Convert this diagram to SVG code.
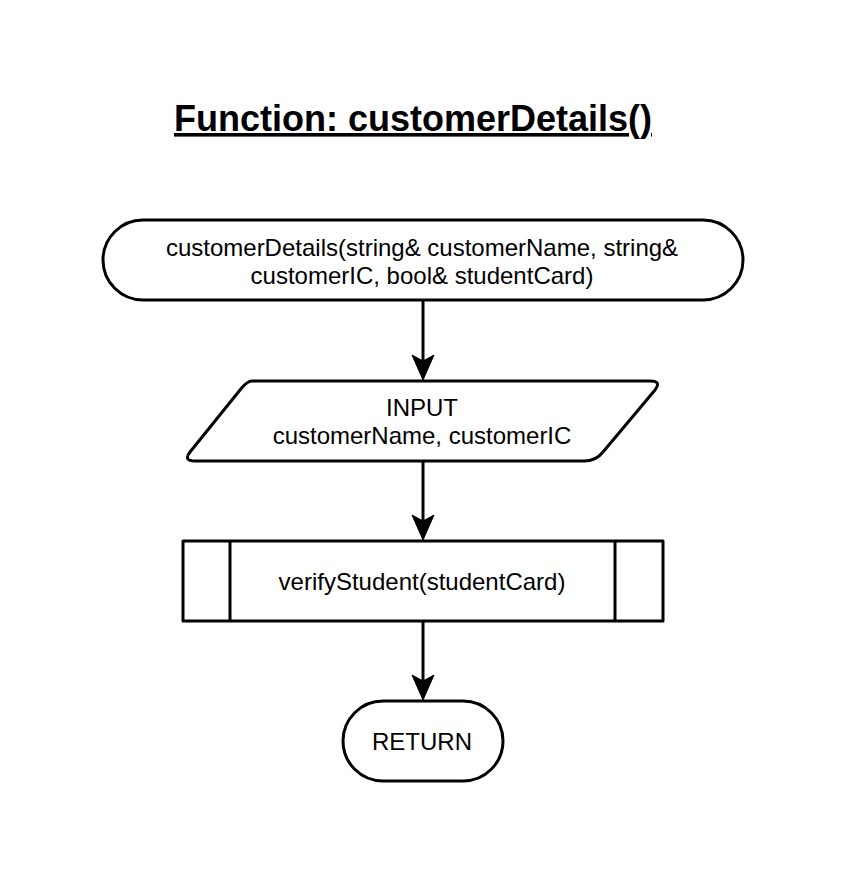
<svg xmlns="http://www.w3.org/2000/svg" width="844" height="884" viewBox="0 0 844 884">
<style>
.shape{fill:#fff;stroke:#000;stroke-width:3;stroke-linejoin:round}
.lbl{font-family:"Liberation Sans",Arial,sans-serif;font-size:24px;fill:#000;text-anchor:middle}
.title{font-family:"Liberation Sans",Arial,sans-serif;font-size:36px;font-weight:bold;fill:#000;text-anchor:middle;text-decoration:underline}
.edge{fill:none;stroke:#000;stroke-width:3}
.head{fill:#000;stroke:#000;stroke-width:1}
</style>
<rect width="844" height="884" fill="#fff"/>
<text class="title" x="413" y="131">Function: customerDetails()</text>
<g id="connectors">
<path class="edge" d="M423,301 V370"/>
<path class="head" d="M423,380 L412,355 L423,361 L434,355 Z"/>
<path class="edge" d="M423,462 V531"/>
<path class="head" d="M423,540 L412,515 L423,521 L434,515 Z"/>
<path class="edge" d="M423,622 V691"/>
<path class="head" d="M423,700 L412,675 L423,681 L434,675 Z"/>
</g>
<g id="start">
<rect class="shape" x="103" y="220" width="640" height="80" rx="40" ry="40"/>
<text class="lbl" x="422" y="256">customerDetails(string&amp; customerName, string&amp;</text>
<text class="lbl" x="422" y="284">customerIC, bool&amp; studentCard)</text>
</g>
<g id="input">
<path class="shape" d="M252,381 H650 Q662,381 655,390 L603,452 Q596,461 584,461 H195 Q183,461 190,452 L240,390 Q247,381 252,381 Z"/>
<text class="lbl" x="422" y="416">INPUT</text>
<text class="lbl" x="422" y="444">customerName, customerIC</text>
</g>
<g id="verify">
<rect class="shape" x="183" y="541" width="480" height="80"/>
<line class="edge" x1="230" y1="541" x2="230" y2="621"/>
<line class="edge" x1="615" y1="541" x2="615" y2="621"/>
<text class="lbl" x="422" y="590">verifyStudent(studentCard)</text>
</g>
<g id="return">
<rect class="shape" x="343" y="701" width="160" height="80" rx="40" ry="40"/>
<text class="lbl" x="422" y="750">RETURN</text>
</g>
</svg>
